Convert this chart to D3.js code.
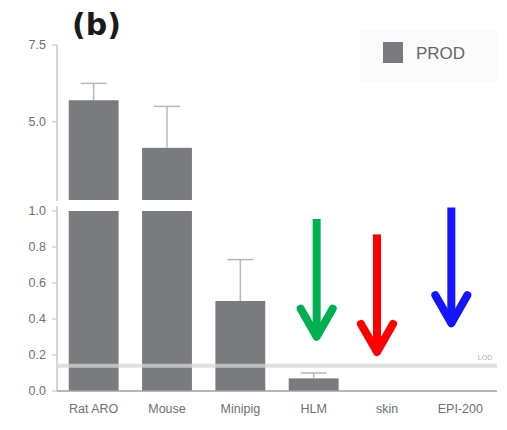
<!DOCTYPE html>
<html>
<head>
<meta charset="utf-8">
<script src="https://cdn.jsdelivr.net/npm/d3@7"></script>
<style>
  body { margin: 0; background: #fff; }
  svg { display: block; font-family: "Liberation Sans", Arial, sans-serif; }
</style>
</head>
<body>
<svg id="chart" width="507" height="430"></svg>
<script>
// data
const categories = ['Rat ARO', 'Mouse', 'Minipig', 'HLM', 'skin', 'EPI-200'];
const prodValues = [5.7, 4.15, 0.5, 0.07, null, null];
const prodErrors = [0.55, 1.35, 0.23, 0.03, null, null];
const lowerTicks = [0.0, 0.2, 0.4, 0.6, 0.8, 1.0];
const upperTicks = [5.0, 7.5];
const lodValue = 0.14;
const arrowCats = ['HLM', 'skin', 'EPI-200'];
const arrowColors = ['#00b050', '#ff0000', '#1414ff'];
const arrowShift = [3, -10, -9];
const arrowTops = [0.955, 0.87, 1.02];   // lower-axis units
const arrowTips = [0.285, 0.2, 0.36];

const svg = d3.select('#chart');
const barColor = '#7a7b7e';
const axisColor = '#c8c8c8';
const textColor = '#707070';

const x = d3.scaleBand()
  .domain(categories)
  .range([57, 497])
  .paddingInner(0.32)
  .paddingOuter(0.16);

const yLow = d3.scaleLinear().domain([0, 1]).range([391, 211]);
const yHigh = d3.scaleLinear().domain([2.45, 7.5]).range([200, 45]);

// axis lines
svg.append('line')
  .attr('x1', 57).attr('x2', 57)
  .attr('y1', yHigh(7.5)).attr('y2', 201)
  .attr('stroke', axisColor).attr('stroke-width', 1.5);
svg.append('line')
  .attr('x1', 57).attr('x2', 57)
  .attr('y1', 206).attr('y2', yLow(0))
  .attr('stroke', axisColor).attr('stroke-width', 1.5);

function ticks(scale, values, fmt) {
  const g = svg.append('g');
  values.forEach(v => {
    g.append('line')
      .attr('x1', 52).attr('x2', 57)
      .attr('y1', scale(v)).attr('y2', scale(v))
      .attr('stroke', axisColor).attr('stroke-width', 1.2);
    g.append('text')
      .attr('x', 46).attr('y', scale(v))
      .attr('dy', '0.35em')
      .attr('text-anchor', 'end')
      .attr('font-size', 12.5)
      .attr('fill', textColor)
      .text(fmt(v));
  });
}
ticks(yLow, lowerTicks, d3.format('.1f'));
ticks(yHigh, upperTicks, d3.format('.1f'));

// bars, split at the break
const rows = categories.map((c, i) => ({ c, v: prodValues[i], e: prodErrors[i] }))
  .filter(d => d.v != null);

svg.append('g').selectAll('rect')
  .data(rows)
  .join('rect')
  .attr('x', d => x(d.c))
  .attr('width', x.bandwidth())
  .attr('y', d => d.v > 1 ? yLow(1) : yLow(d.v))
  .attr('height', d => yLow(0) - (d.v > 1 ? yLow(1) : yLow(d.v)))
  .attr('fill', barColor);

svg.append('g').selectAll('rect')
  .data(rows.filter(d => d.v > 1))
  .join('rect')
  .attr('x', d => x(d.c))
  .attr('width', x.bandwidth())
  .attr('y', d => yHigh(d.v))
  .attr('height', d => yHigh(yHigh.domain()[0]) - yHigh(d.v))
  .attr('fill', barColor);

// error bars (upper only)
const errG = svg.append('g')
  .attr('stroke', '#b8b8b8').attr('stroke-width', 1.5).attr('fill', 'none');
rows.forEach(d => {
  const sc = d.v > 1 ? yHigh : yLow;
  const cx = x(d.c) + x.bandwidth() / 2;
  errG.append('line')
    .attr('x1', cx).attr('x2', cx)
    .attr('y1', sc(d.v)).attr('y2', sc(d.v + d.e));
  errG.append('line')
    .attr('x1', cx - 13).attr('x2', cx + 13)
    .attr('y1', sc(d.v + d.e)).attr('y2', sc(d.v + d.e));
});

// LOD line
svg.append('line')
  .attr('x1', 58).attr('x2', 497)
  .attr('y1', yLow(lodValue)).attr('y2', yLow(lodValue))
  .attr('stroke', '#d6d6d6').attr('stroke-opacity', 0.75).attr('stroke-width', 4);
svg.append('text')
  .attr('x', 485).attr('y', yLow(lodValue) - 6)
  .attr('text-anchor', 'middle')
  .attr('font-size', 7)
  .attr('fill', '#aaa')
  .text('LOD');

// baseline
svg.append('line')
  .attr('x1', 57).attr('x2', 497)
  .attr('y1', yLow(0)).attr('y2', yLow(0))
  .attr('stroke', '#a0a0a0').attr('stroke-width', 1.5);

// x labels
svg.append('g').selectAll('text')
  .data(categories)
  .join('text')
  .attr('x', d => x(d) + x.bandwidth() / 2)
  .attr('y', 413)
  .attr('text-anchor', 'middle')
  .attr('font-size', 12.5)
  .attr('fill', textColor)
  .text(d => d);

// arrows
arrowCats.forEach((c, i) => {
  const cx = x(c) + x.bandwidth() / 2 + arrowShift[i];
  const top = yLow(arrowTops[i]);
  const tip = yLow(arrowTips[i]);
  const g = svg.append('g')
    .attr('stroke', arrowColors[i]).attr('stroke-width', 8)
    .attr('fill', 'none').attr('stroke-linecap', 'round').attr('stroke-linejoin', 'round');
  g.append('line').attr('x1', cx).attr('x2', cx).attr('y1', top).attr('y2', tip - 4)
    .attr('stroke-linecap', 'butt');
  g.append('path')
    .attr('d', `M${cx - 16},${tip - 31} L${cx},${tip - 3} L${cx + 16},${tip - 31}`);
});

// legend
svg.append('rect')
  .attr('x', 360).attr('y', 30).attr('width', 137).attr('height', 52)
  .attr('fill', '#fbfbfb');
svg.append('rect')
  .attr('x', 383).attr('y', 42).attr('width', 20).attr('height', 21)
  .attr('fill', barColor);
svg.append('text')
  .attr('x', 416).attr('y', 53).attr('dy', '0.35em')
  .attr('font-size', 17)
  .attr('fill', '#666')
  .text('PROD');

// panel letter
svg.append('text')
  .attr('x', 72).attr('y', 35)
  .attr('font-size', 30)
  .attr('font-weight', 'bold')
  .attr('font-family', '"DejaVu Sans", sans-serif')
  .attr('fill', '#1a1a1a')
  .text('(b)');
</script>
</body>
</html>
